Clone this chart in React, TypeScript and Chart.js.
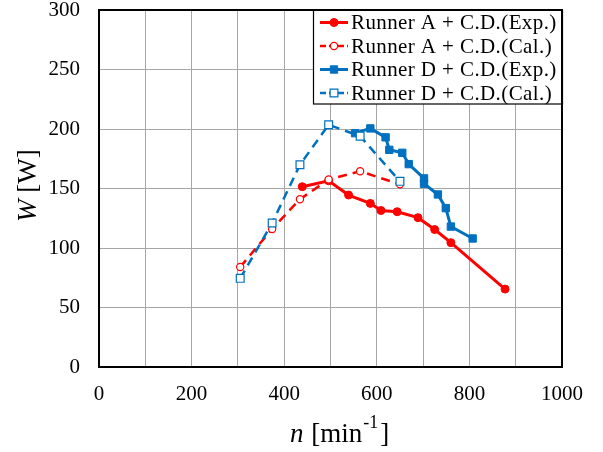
import React, { useEffect, useRef } from 'react';
import { Chart, registerables } from 'chart.js';

Chart.register(...registerables);

// ---- data ----
const runnerA_exp_n = [439, 496, 539, 586, 609, 644, 689, 725, 760, 877];
const runnerA_exp_W = [151.5, 156.5, 144.5, 137.5, 131.5, 130.5, 125.5, 115.5, 104.5, 65.5];
const runnerA_cal_n = [305, 374, 434, 496, 564, 650];
const runnerA_cal_W = [84, 116, 141, 157.5, 164.5, 153.5];
const runnerD_exp_n = [553, 586, 619, 627, 655, 669, 702, 702, 732, 749, 760, 807];
const runnerD_exp_W = [196.5, 200.5, 193, 182.5, 180, 170.5, 158.5, 154, 145, 133.5, 118, 108];
const runnerD_cal_n = [305, 374, 434, 496, 564, 650];
const runnerD_cal_W = [74.5, 121, 170, 203.5, 194, 156];

const seriesLabels = [
  'Runner A + C.D.(Exp.)',
  'Runner A + C.D.(Cal.)',
  'Runner D + C.D.(Exp.)',
  'Runner D + C.D.(Cal.)',
];

const xMin = 0, xMax = 1000, xStep = 100, xLabelStep = 200;
const yMin = 0, yMax = 300, yStep = 50;

const RED = '#FF0000';
const BLUE = '#0070C0';
const FONT = '"Liberation Serif", "Times New Roman", serif';
const DASH = [9, 6];

const toPts = (xs: number[], ys: number[]) => xs.map((x, i) => ({ x, y: ys[i] }));

function drawMarker(ctx: CanvasRenderingContext2D, style: string, x: number, y: number, r: number, fill: string, stroke: string, lw: number) {
  ctx.save();
  ctx.setLineDash([]);
  ctx.beginPath();
  if (style === 'circle') {
    ctx.arc(x, y, r, 0, Math.PI * 2);
  } else {
    const s = Math.SQRT1_2 * r;
    ctx.rect(x - s, y - s, 2 * s, 2 * s);
  }
  ctx.fillStyle = fill;
  ctx.fill();
  ctx.lineWidth = lw;
  ctx.strokeStyle = stroke;
  ctx.stroke();
  ctx.restore();
}

export default function App() {
  const ref = useRef<HTMLCanvasElement>(null);

  useEffect(() => {
    document.body.style.margin = '0';
    const canvas = ref.current!;

    const datasets: any[] = [
      {
        label: seriesLabels[0],
        data: toPts(runnerA_exp_n, runnerA_exp_W),
        showLine: true,
        borderColor: RED,
        backgroundColor: RED,
        borderWidth: 3,
        pointStyle: 'circle',
        pointRadius: 4,
        pointBackgroundColor: RED,
        pointBorderColor: RED,
        pointBorderWidth: 1,
        order: 3,
      },
      {
        label: seriesLabels[1],
        data: toPts(runnerA_cal_n, runnerA_cal_W),
        showLine: true,
        borderColor: RED,
        backgroundColor: '#FFFFFF',
        borderWidth: 2.5,
        borderDash: DASH,
        pointStyle: 'circle',
        pointRadius: 3.6,
        pointBackgroundColor: '#FFFFFF',
        pointBorderColor: RED,
        pointBorderWidth: 1.2,
        order: 2,
      },
      {
        label: seriesLabels[2],
        data: toPts(runnerD_exp_n, runnerD_exp_W),
        showLine: true,
        borderColor: BLUE,
        backgroundColor: BLUE,
        borderWidth: 3,
        pointStyle: 'rect',
        pointRadius: 5.2,
        pointBackgroundColor: BLUE,
        pointBorderColor: BLUE,
        pointBorderWidth: 1,
        order: 1,
      },
      {
        label: seriesLabels[3],
        data: toPts(runnerD_cal_n, runnerD_cal_W),
        showLine: true,
        borderColor: BLUE,
        backgroundColor: '#FFFFFF',
        borderWidth: 2.5,
        borderDash: DASH,
        pointStyle: 'rect',
        pointRadius: 5.5,
        pointBackgroundColor: '#FFFFFF',
        pointBorderColor: BLUE,
        pointBorderWidth: 1.2,
        order: 0,
      },
    ];

    const decorPlugin = {
      id: 'decor',
      afterDraw(chart: any) {
        const ctx: CanvasRenderingContext2D = chart.ctx;
        const a = chart.chartArea;

        // legend box
        const lx = 313.5, ly = 10, lw = 249, lh = 94;
        ctx.save();
        ctx.fillStyle = '#FFFFFF';
        ctx.fillRect(lx, ly, lw, lh);
        ctx.strokeStyle = '#000000';
        ctx.lineWidth = 1.2;
        ctx.strokeRect(lx, ly, lw, lh);
        const rowY = [22.5, 46, 69.5, 93];
        chart.data.datasets.forEach((ds: any, i: number) => {
          const y = rowY[i];
          ctx.save();
          ctx.strokeStyle = ds.borderColor;
          ctx.lineWidth = ds.borderWidth;
          ctx.setLineDash(ds.borderDash ? [6, 3] : []);
          ctx.beginPath();
          ctx.moveTo(320, y);
          ctx.lineTo(348, y);
          ctx.stroke();
          ctx.restore();
          drawMarker(ctx, ds.pointStyle, 334, y, ds.pointRadius, ds.pointBackgroundColor, ds.pointBorderColor, ds.pointBorderWidth);
          ctx.save();
          ctx.fillStyle = '#000000';
          ctx.font = `21px ${FONT}`;
          (ctx as any).letterSpacing = '0.4px';
          ctx.textAlign = 'left';
          ctx.textBaseline = 'middle';
          ctx.fillText(ds.label, 351, y + 1);
          ctx.restore();
        });
        ctx.restore();

        // plot border
        ctx.save();
        ctx.strokeStyle = '#000000';
        ctx.lineWidth = 2;
        ctx.strokeRect(a.left, a.top, a.right - a.left, a.bottom - a.top);
        ctx.restore();

        // x-axis title: n [min^-1]
        ctx.save();
        ctx.fillStyle = '#000000';
        ctx.textBaseline = 'alphabetic';
        ctx.textAlign = 'left';
        let x = 290;
        const base = 442;
        ctx.font = `italic 27px ${FONT}`;
        ctx.fillText('n', x, base);
        x += ctx.measureText('n').width + 1;
        ctx.font = `27px ${FONT}`;
        ctx.fillText(' [min', x, base);
        x += ctx.measureText(' [min').width + 1;
        ctx.font = `18px ${FONT}`;
        ctx.fillText('-1', x, base - 14);
        x += ctx.measureText('-1').width + 2;
        ctx.font = `27px ${FONT}`;
        ctx.fillText(']', x, base);
        ctx.restore();

        // y-axis title: W [W]
        ctx.save();
        ctx.fillStyle = '#000000';
        ctx.translate(36, 222);
        ctx.rotate(-Math.PI / 2);
        ctx.textBaseline = 'alphabetic';
        ctx.textAlign = 'left';
        ctx.font = `italic 27px ${FONT}`;
        ctx.fillText('W', 0, 0);
        const w = ctx.measureText('W').width;
        ctx.font = `27px ${FONT}`;
        ctx.fillText(' [W]', w, 0);
        ctx.restore();
      },
    };

    const chart = new Chart(canvas, {
      type: 'scatter',
      data: { datasets },
      options: {
        responsive: false,
        animation: false,
        events: [],
        layout: { padding: { left: 0, right: 41, top: 10, bottom: 0 } },
        plugins: {
          legend: { display: false },
          tooltip: { enabled: false },
          title: { display: false },
        },
        scales: {
          x: {
            type: 'linear',
            min: xMin,
            max: xMax,
            border: { display: false },
            grid: { color: '#A6A6A6', lineWidth: 1, drawTicks: false },
            ticks: {
              stepSize: xStep,
              autoSkip: false,
              maxRotation: 0,
              padding: 15,
              color: '#000000',
              font: { family: FONT, size: 21 },
              callback: (v: any) => (Number(v) % xLabelStep === 0 ? String(v) : ''),
            },
            afterFit: (s: any) => {
              s.height = 85;
              s.paddingLeft = 0;
              s.paddingRight = 0;
            },
          },
          y: {
            type: 'linear',
            min: yMin,
            max: yMax,
            border: { display: false },
            grid: { color: '#A6A6A6', lineWidth: 1, drawTicks: false },
            ticks: {
              stepSize: yStep,
              padding: 19,
              color: '#000000',
              font: { family: FONT, size: 21 },
            },
            afterFit: (s: any) => {
              s.width = 99;
              s.paddingTop = 0;
              s.paddingBottom = 0;
            },
          },
        },
      } as any,
      plugins: [decorPlugin],
    });

    return () => chart.destroy();
  }, []);

  return (
    <div style={{ width: 603, height: 452, background: '#FFFFFF' }}>
      <canvas ref={ref} width={603} height={452} style={{ display: 'block' }} />
    </div>
  );
}
